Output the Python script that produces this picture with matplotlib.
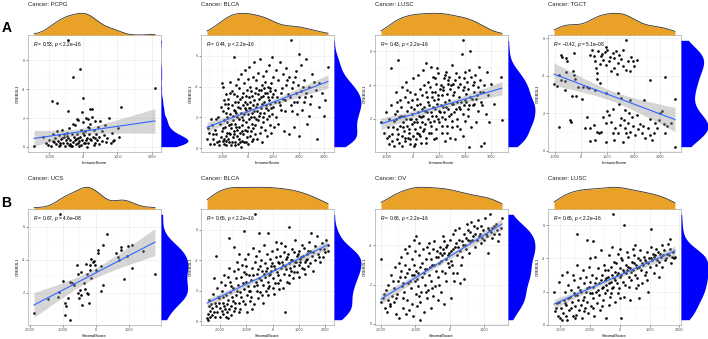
import numpy as np
import matplotlib.pyplot as plt
from matplotlib.ticker import MultipleLocator

plt.rcParams['font.family'] = ['Liberation Sans', 'DejaVu Sans']
plt.rcParams['mathtext.fontset'] = 'custom'
plt.rcParams['mathtext.rm'] = 'Liberation Sans'
plt.rcParams['mathtext.it'] = 'Liberation Sans:italic'
plt.rcParams['axes.unicode_minus'] = False

# points: (score, CREB3L1)
pcpg_pts = [(-1450,0.05),(-1200,0.7),(-1110,0.3),(-1010,0.5),(-955,0.1),(-905,0.9),(-870,0.32),(-840,0.62),
    (-805,0.2),(-930,3.2),(-780,3.07),(-772,1.1),(-745,0.42),(-705,0.8),(-676,0.15),(-648,0.52),(-618,1.2),
    (-596,0.3),(-574,0.7),(-552,0.1),(-522,0.45),(-497,1.0),(-478,0.25),(-452,0.6),(-450,2.52),(-432,1.3),
    (-405,0.2),(-384,0.5),(-350,0.9),(-332,0.1),(-303,0.35),(-320,4.85),(-282,0.7),(-253,1.5),(-228,0.2),
    (-450,7.4),(-204,0.55),(-181,0.9),(-180,1.97),(-162,0.3),(-148,1.9),(-128,0.4),(-100,5.4),(-103,0.7),
    (-78,1.2),(-58,0.15),(-41,0.5),(-22,1.7),(0,3.43),(3,0.3),(22,0.8),(38,1.1),(62,0.45),(81,2.0),(98,0.6),
    (120,1.97),(123,1.4),(148,0.25),(172,0.9),(198,1.6),(200,2.64),(223,0.5),(250,2.6),(252,2.1),(278,0.7),
    (302,1.2),(328,0.3),(352,1.8),(378,0.9),(402,0.5),(428,1.4),(463,0.7),(500,1.8),(533,0.4),(558,1.1),
    (602,0.8),(643,1.5),(702,0.6),(750,2.04),(803,0.3),(852,1.0),(870,0.41),(905,0.5),(1003,1.3),(1050,0.72),
    (1100,2.76),(2100,4.08),(-1050,0.15),(-720,0.05),(-560,0.9),(-355,0.05),(-118,0.1),(102,0.02),(305,0.12),
    (-895,0.4),(-305,1.6),(152,1.3),(452,0.2),(650,0.35),(-52,2.4),(-620,0.6),(-480,0.75),(-260,0.45),
    (-10,0.95),(180,0.55),(-700,0.3),(-420,0.15),(-150,0.65),(60,0.25),(330,0.65)]

blca_imm_pts = [(-1600,0.6),(-1520,1.0),(-1480,0.3),(-1420,1.5),(-1380,0.6),(-1310,0.3),(-1290,1.2),(-1230,0.9),
    (-1180,2.0),(-1120,0.2),(-1090,1.6),(-1060,0.7),(-1030,4.2),(-1010,1.1),(-990,2.4),(-970,0.5),(-960,4.0),
    (-940,1.8),(-925,0.3),(-910,2.9),(-890,1.4),(-875,0.8),(-860,3.5),(-840,0.2),(-830,2.0),(-815,1.0),
    (-795,2.6),(-780,0.6),(-760,3.2),(-745,1.5),(-735,0.4),(-715,2.2),(-700,0.9),(-690,4.3),(-665,1.3),
    (-650,0.2),(-635,2.8),(-615,3.7),(-600,1.8),(-585,0.7),(-555,5.9),(-545,2.5),(-535,1.1),(-520,0.4),
    (-510,3.0),(-495,1.6),(-485,0.2),(-470,4.1),(-455,2.3),(-440,0.8),(-430,3.4),(-410,1.2),(-400,2.7),
    (-390,0.3),(-380,4.5),(-360,3.9),(-345,1.9),(-335,0.6),(-310,2.6),(-300,1.0),(-290,3.2),(-280,0.1),
    (-260,4.8),(-245,2.0),(-235,0.5),(-215,1.5),(-200,3.6),(-190,2.8),(-180,0.9),(-160,2.2),(-145,4.2),
    (-135,0.4),(-110,3.0),(-100,1.2),(-90,5.1),(-80,2.5),(-60,1.7),(-45,0.7),(-35,3.8),(-15,2.9),(-5,4.5),
    (5,1.4),(15,0.3),(25,2.2),(40,3.3),(55,1.9),(60,5.3),(70,0.8),(90,2.6),(105,4.0),(115,1.1),(140,3.7),
    (150,1.6),(160,2.3),(170,0.5),(190,4.6),(205,2.8),(215,1.3),(240,3.1),(250,5.6),(260,2.0),(270,0.9),
    (290,1.5),(305,3.9),(315,2.7),(340,4.4),(355,2.4),(365,0.6),(390,3.5),(405,1.8),(415,4.9),(440,2.1),
    (455,3.2),(465,1.0),(490,5.8),(500,3.8),(510,2.6),(520,1.4),(540,4.1),(555,2.9),(565,0.4),(590,3.4),
    (605,1.7),(615,4.7),(640,2.3),(655,3.9),(665,1.2),(690,4.3),(705,2.8),(715,5.0),(740,3.6),(755,1.9),
    (765,0.8),(790,4.0),(805,2.5),(815,3.1),(840,5.4),(855,1.5),(865,3.7),(890,2.9),(905,4.2),(915,1.0),
    (940,3.3),(955,5.9),(965,2.2),(990,4.6),(1005,2.7),(1015,1.4),(1080,3.8),(1100,5.1),(1120,2.0),
    (1180,4.4),(1200,1.6),(1220,3.0),(1280,5.6),(1300,2.5),(1320,3.6),(1380,3.2),(1400,4.8),(1420,1.1),
    (1480,2.4),(1500,4.1),(1520,5.2),(1580,3.5),(1600,0.9),(1620,4.6),(1700,7.0),(1680,2.8),(1720,3.9),
    (1780,4.3),(1800,1.4),(1820,3.0),(1880,5.0),(1900,3.6),(1920,2.2),(1980,4.1),(2000,6.1),(2010,0.8),
    (2030,3.3),(2080,3.7),(2100,5.4),(2120,2.5),(2190,4.4),(2210,3.0),(2280,5.8),(2300,3.6),(2320,1.6),
    (2390,4.0),(2410,2.1),(2480,3.4),(2510,4.8),(2700,0.6),(2690,3.8),(2780,4.2),(2810,2.7),(2990,2.1),
    (3020,3.1),(3150,5.3),
    (-1550,1.3),(-1350,0.9),(-1250,1.9),(-1150,0.5),(-1050,2.7),(-980,1.3),(-950,3.1),(-920,0.6),(-870,2.3),
    (-820,1.7),(-770,2.9),(-720,1.0),(-680,3.6),(-640,1.6),(-590,2.1),(-560,0.9),(-530,3.5),(-500,2.4),
    (-460,1.4),(-420,2.0),(-370,3.0),(-330,1.4),(-270,2.3),(-220,3.3),(-170,1.8),(-120,2.6),(-70,3.4),
    (-20,1.1),(30,2.6),(80,3.0),(130,2.0),(180,3.4),(230,2.4),(280,3.6),(330,1.9),(380,2.9),(430,3.8),
    (480,2.3),(530,3.3),(580,2.0),(630,3.0),(680,3.6),(730,2.6),(780,3.3),(830,2.1),(880,3.9),(930,2.6),
    (980,3.5),(1050,3.0),(1150,3.3),(1250,2.8),(1350,3.9),(1450,3.1),(1550,4.4),(1650,3.3),(1750,2.4),
    (1850,4.6),(1950,3.0),(2150,4.0),(2250,3.3),(2450,2.9),(2600,4.3),(2900,3.6),(-1450,1.9),(-1200,0.4),
    (-860,0.5),(-610,0.4),(-320,0.4),(-70,0.4),(200,0.6),(-230,1.1)]

lusc_imm_pts = [(-1200,1.8),(-1100,1.2),(-1010,2.4),(-985,0.9),(-920,1.5),(-895,0.5),(-880,2.0),(-820,5.0),
    (-805,2.8),(-790,1.1),(-770,0.7),(-720,1.9),(-700,0.4),(-680,2.3),(-630,3.6),(-610,1.4),(-595,0.8),
    (-575,2.5),(-540,5.5),(-520,2.1),(-505,0.6),(-490,3.1),(-470,1.6),(-430,2.7),(-415,1.0),(-400,3.9),
    (-385,0.4),(-370,1.8),(-330,2.2),(-310,1.3),(-295,3.3),(-275,0.7),(-235,4.2),(-220,2.5),(-205,1.6),
    (-190,0.9),(-170,3.0),(-130,1.2),(-115,2.0),(-100,3.6),(-85,0.5),(-70,2.7),(-35,1.7),(-20,3.1),(-5,2.3),
    (10,1.0),(25,4.4),(40,0.4),(70,2.6),(85,1.4),(100,3.5),(115,2.0),(130,0.8),(170,3.2),(185,1.8),(200,4.6),
    (215,2.4),(230,1.1),(270,2.9),(285,1.5),(300,3.8),(315,0.6),(330,2.1),(370,3.4),(385,2.2),(400,4.9),
    (415,1.3),(430,2.7),(470,2.5),(485,1.7),(500,3.6),(515,0.9),(525,5.3),(570,3.0),(585,4.2),(600,2.0),
    (615,1.2),(630,2.8),(670,3.9),(685,2.4),(700,5.1),(715,1.6),(730,3.3),(770,2.7),(785,4.5),(800,1.9),
    (815,3.1),(830,0.8),(870,3.6),(880,2.2),(895,4.1),(905,1.4),(915,2.9),(930,5.0),(970,3.2),(985,4.7),
    (1000,2.5),(1015,1.8),(1030,3.8),(1070,2.8),(1085,4.0),(1100,1.2),(1115,3.4),(1130,2.1),(1170,3.7),
    (1185,4.4),(1200,2.4),(1215,0.7),(1230,3.0),(1270,4.8),(1285,2.7),(1300,3.5),(1315,1.6),(1330,4.1),
    (1370,3.1),(1385,2.2),(1400,4.5),(1415,0.9),(1430,3.8),(1470,4.0),(1485,2.9),(1500,5.2),(1515,1.5),
    (1530,3.4),(1570,3.6),(1585,2.4),(1600,4.3),(1615,0.8),(1670,4.7),(1685,3.0),(1700,2.0),(1715,3.9),
    (1770,3.3),(1785,4.1),(1800,1.4),(1815,2.6),(1875,5.84),(1900,6.66),(1910,3.7),(1925,2.3),(1940,4.4),
    (1980,3.1),(1995,4.8),(2010,1.9),(2025,3.5),(2080,4.2),(2095,2.6),(2150,0.36),(2120,3.8),(2175,6.04),
    (2190,3.3),(2210,1.5),(2230,4.5),(2280,2.8),(2300,4.0),(2320,3.6),(2380,4.6),(2400,1.8),(2420,3.2),
    (2480,3.9),(2500,2.5),(2520,5.1),(2580,4.3),(2600,3.0),(2620,0.4),(2710,0.6),(2690,3.6),(2720,4.0),
    (2780,2.3),(2820,4.8),(2880,3.4),(2910,1.8),(3000,4.1),(3100,2.9),(3400,1.96),(3380,4.5),
    (-900,1.0),(-750,1.5),(-650,2.0),(-550,1.1),(-450,2.2),(-350,1.5),(-250,2.0),(-150,1.4),(-50,2.0),
    (50,1.8),(150,1.2),(250,2.2),(350,1.8),(450,1.4),(550,2.4),(650,1.8),(750,2.2),(850,2.6),(950,2.0),
    (1050,2.4),(1150,2.7),(1250,2.0),(1350,2.6),(1450,2.3),(1550,2.9),(1650,2.6),(1750,2.7),(1850,3.0),
    (1950,2.8),(2050,3.0),(2150,2.8),(2250,3.2),(2350,2.9),(2450,3.4),(2550,3.6),(2650,2.8),(150,2.8),
    (350,2.6),(550,3.3),(750,3.6),(950,3.4),(1150,3.9),(1350,4.3),(1550,4.1),(1750,4.5),(1950,3.9),
    (2150,4.9),(2350,4.2),(-300,0.9),(-100,0.8),(100,0.5),(300,1.0),(500,0.6),(700,1.2),(900,0.9),
    (1100,1.6),(1300,1.2),(1500,1.9),(1700,1.6),(1900,1.0),(2100,2.2),(-600,3.0),(-200,3.7),(450,4.0),
    (850,4.4),(1250,4.6)]

tgct_pts = [(-1025,3.57),(-900,3.46),(-780,5.12),(-730,5.0),(-560,4.95),(-545,4.77),(-820,4.05),(-750,3.79),
    (-580,4.18),(-260,5.21),(-300,4.23),(-255,4.05),(-230,3.82),(-820,1.25),(-620,3.25),(-360,2.93),
    (-210,2.93),(25,2.75),(65,3.39),(220,3.39),(285,3.34),(545,3.25),(220,1.79),(130,1.2),(325,1.2),
    (480,1.38),(350,0.54),(545,0.57),(610,1.02),(675,0.96),(935,0.48),(830,1.82),(975,2.09),
    (350,5.12),(415,5.39),(480,5.04),(540,4.77),(550,4.41),(610,4.14),(740,5.04),(805,5.18),(900,5.25),
    (935,4.59),(1000,5.39),(1065,4.77),(1130,4.23),(1195,5.21),(1260,4.95),(1325,5.3),(1390,4.68),
    (1455,5.12),(1585,5.39),(1690,5.89),(1780,4.77),(1975,4.77),(2105,4.86),(1845,4.23),(1580,4.5),
    (615,3.84),(715,3.6),(935,3.07),(1390,3.1),(1520,2.8),(1650,2.18),(1845,2.71),(2390,2.68),(2620,3.79),
    (3175,3.91),(3550,2.77),(3560,0.21),
    (1065,1.91),(1300,1.23),(1390,0.93),(1480,1.38),(1520,1.73),(1610,1.64),(1650,1.2),(1715,0.93),
    (1780,1.46),(1785,0.75),(1870,1.02),(1950,1.79),(1975,1.29),(2040,0.84),(2105,1.91),(2170,1.14),
    (2235,1.43),(2300,0.93),(2365,1.32),(2430,0.66),(2520,1.2),(2620,0.84),(2685,0.57),(2750,0.93),
    (2815,1.46),(2880,1.2),(2945,1.64),(3010,2.0),(3075,2.09),(3140,1.43),(3200,0.93),(3270,1.29),
    (1260,0.57),(1585,0.48),(1130,1.55),(935,1.46),(740,1.02),(1195,0.93),
    (700,4.6),(850,4.85),(1100,5.0),(1230,4.4),(1500,4.9),(1700,4.3),(1900,5.0),(950,5.55),(650,5.3),
    (1350,4.1),(2000,4.5),(-100,3.4),(1200,2.2),(1450,2.5),(1800,2.0),(2600,1.7),(3400,1.5),(-420,1.65),
    (-380,1.55),(-600,3.7)]

ucs_pts = [(-1880,0.76),(-1457,1.64),(-1150,1.74),(-1131,2.06),(-1102,6.74),(-996,2.7),(-948,1.4),(-900,1.2),
    (-945,0.66),(-775,0.36),(-847,1.66),(-794,2.66),(-727,2.56),(-665,2.46),(-443,3.26),(-544,3.14),
    (-573,3.66),(-496,2.14),(-440,1.86),(-500,1.66),(-424,1.26),(-362,2.56),(-343,2.2),(-261,2.0),(-222,1.4),
    (-225,1.94),(-295,3.74),(-258,3.1),(-189,3.34),(-141,2.9),(-160,4.06),(-88,3.86),(-40,3.94),(13,3.34),
    (-21,3.7),(80,4.6),(61,4.4),(215,4.9),(349,5.56),(167,3.6),(213,2.46),(170,2.1),(618,4.4),(666,4.14),
    (695,4.0),(753,4.74),(772,4.58),(974,4.84),(955,4.2),(1099,4.86),(1109,3.5),(849,2.8),(1426,4.5),
    (1800,3.14),(-548,2.0),(-186,3.7)]

blca_str_pts = [(-2500,0.2),(-2480,0.5),(-2440,1.0),(-2460,0.1),(-2390,0.7),(-2410,1.4),(-2310,0.4),
    (-2290,1.8),(-2330,0.9),(-2210,1.2),(-2190,0.3),(-2230,2.8),(-2150,4.3),(-2110,0.6),(-2080,1.6),
    (-2120,2.2),(-2010,0.9),(-1990,0.3),(-2030,1.5),(-1970,2.6),(-1910,1.2),(-1890,0.5),(-1930,2.0),
    (-1870,3.0),(-1810,0.8),(-1790,1.7),(-1830,2.4),(-1770,0.3),(-1710,1.4),(-1690,2.9),(-1730,0.6),
    (-1670,3.5),(-1675,5.44),(-1610,1.9),(-1590,1.0),(-1630,2.6),(-1570,0.4),(-1510,2.2),(-1490,3.3),
    (-1530,1.3),(-1470,0.7),(-1460,4.88),(-1410,1.7),(-1390,2.8),(-1430,0.9),(-1370,3.9),(-1310,2.4),
    (-1290,1.2),(-1330,3.4),(-1270,4.4),(-1210,1.6),(-1190,2.9),(-1230,0.8),(-1170,3.7),(-1110,2.1),
    (-1090,3.2),(-1130,1.3),(-1090,5.9),(-1070,4.1),(-1010,2.6),(-990,1.7),(-1030,3.6),(-970,0.6),
    (-910,2.0),(-890,3.0),(-930,4.4),(-870,1.3),(-810,2.7),(-790,3.5),(-830,1.6),(-770,4.8),(-710,2.3),
    (-690,3.9),(-690,7.0),(-730,1.1),(-610,3.1),(-590,2.0),(-630,4.3),(-570,1.5),(-510,2.8),(-490,3.6),
    (-525,5.8),(-470,1.9),(-530,4.6),(-410,3.3),(-390,2.4),(-430,4.0),(-370,1.2),(-310,2.9),(-290,3.8),
    (-330,5.0),(-270,2.0),(-210,3.5),(-190,2.6),(-230,4.4),(-170,1.7),(-175,5.76),(-110,3.1),(-90,4.1),
    (-130,2.3),(-70,3.6),(-10,3.8),(10,2.8),(-30,4.6),(30,1.8),(90,3.4),(110,4.2),(70,2.5),(130,5.2),
    (190,3.9),(210,3.0),(170,4.7),(230,2.1),(290,4.3),(310,3.5),(270,2.7),(330,5.1),(390,3.7),(410,4.5),
    (430,3.1),(475,0.58),(490,4.1),(510,3.4),(470,4.9),(530,2.6),(600,6.17),(610,3.8),(590,4.4),(630,3.0),
    (690,4.0),(710,3.3),(730,4.7),(790,4.5),(810,3.6),(770,2.8),(830,5.3),(890,3.9),(910,4.3),(930,3.2),
    (990,4.6),(1010,3.7),(1030,4.1),(1090,4.2),(1110,3.5),(1130,5.0),(1190,4.8),(1210,3.9),(1230,3.1),
    (1290,4.4),(1310,4.1),(1330,3.6),(1390,5.2),(1410,3.8),(1430,4.6),(1450,5.76),(1490,4.3),(1520,3.3),
    (1590,4.9),(1610,4.0),(1700,5.55),(1720,4.4),(1790,4.7),(1810,3.9),(1890,5.1),(1910,4.2),(1990,4.5),
    (2010,5.3),(2090,5.0),(2100,4.6),
    (-2350,1.1),(-2250,0.6),(-2170,1.0),(-2050,1.2),(-1950,0.7),(-1850,1.0),(-1750,1.1),(-1650,0.8),
    (-1550,1.6),(-1450,1.2),(-1350,2.0),(-1250,1.9),(-1150,2.5),(-1050,1.1),(-950,2.3),(-850,2.0),
    (-750,3.0),(-650,2.6),(-550,3.4),(-450,2.7),(-350,3.1),(-250,3.3),(-150,3.0),(-50,3.3),(50,3.6),
    (150,3.2),(250,3.8),(350,3.9),(450,3.6),(550,4.2),(650,3.5),(750,4.0),(850,3.9),(950,4.4),(1050,3.9),
    (1150,4.3),(1250,4.0),(1350,4.6),(1550,4.5),(1750,4.2),(1950,4.7),(-1900,1.6),(-1600,2.3),(-1300,0.6),
    (-1000,3.1),(-800,0.8),(-600,2.4),(-400,1.7),(-200,2.2),(0,2.2),(200,2.5),(400,2.2),(600,2.5),
    (800,3.2),(1000,2.9),(1200,3.4),(-1700,0.2),(-2400,0.3)]

ov_pts = [(-1990,3.32),(-2000,1.1),(-1910,1.5),(-1890,0.8),(-1810,2.0),(-1790,1.2),(-1830,0.6),(-1710,2.5),
    (-1690,1.4),(-1730,0.9),(-1610,1.8),(-1590,2.9),(-1630,1.1),(-1570,0.5),(-1510,2.2),(-1490,3.1),
    (-1530,1.5),(-1470,0.3),(-1410,2.7),(-1390,1.9),(-1430,3.4),(-1370,0.8),(-1350,1.3),(-1310,2.4),
    (-1290,3.0),(-1330,1.6),(-1270,0.5),(-1250,3.6),(-1210,2.1),(-1180,3.97),(-1190,2.8),(-1230,1.2),
    (-1170,0.7),(-1110,2.5),(-1090,3.3),(-1130,1.8),(-1030,4.26),(-1070,0.4),(-990,4.48),(-1010,2.2),
    (-1030,3.0),(-970,1.5),(-950,0.9),(-980,2.7),(-910,2.6),(-890,3.5),(-930,1.9),(-870,1.1),(-880,4.1),
    (-860,0.2),(-810,2.4),(-790,3.1),(-830,1.6),(-770,3.8),(-750,0.6),(-710,2.8),(-690,3.3),(-730,2.0),
    (-670,1.3),(-650,3.9),(-610,2.5),(-590,3.6),(-630,1.7),(-570,2.9),(-550,0.8),(-510,3.0),(-490,3.8),
    (-530,2.2),(-470,1.4),(-450,4.2),(-410,2.7),(-390,3.4),(-430,1.9),(-370,3.7),(-350,1.2),(-310,3.1),
    (-290,3.9),(-330,2.4),(-270,3.6),(-250,1.6),(-210,3.5),(-190,3.8),(-230,2.7),(-170,4.2),(-150,1.0),
    (-110,3.3),(-90,3.9),(-130,2.6),(-70,4.0),(-50,3.1),(-10,3.6),(10,4.3),(-30,2.9),(30,3.2),(50,1.3),
    (90,3.8),(110,4.6),(70,3.0),(130,2.2),(190,4.1),(210,3.5),(170,4.8),(230,2.6),(290,4.3),(310,3.7),
    (270,4.9),(330,3.0),(390,4.0),(410,4.6),(370,3.4),(430,2.3),(490,4.4),(510,5.1),(470,3.8),(530,4.8),
    (590,4.7),(610,4.2),(570,3.6),(630,5.2),(690,4.5),(710,5.0),(730,3.9),(790,4.3),(810,4.9),(830,5.3),
    (890,4.6),(910,4.1),(930,5.0),(990,4.8),(1010,4.3),(1030,5.4),(1090,4.5),(1110,4.9),(1130,3.6),
    (1190,5.59),(1210,4.7),(1230,4.4),(1290,4.6),(1310,5.0),(1390,4.8),(1410,4.2),(1530,5.38),(1490,4.9),
    (-1950,1.3),(-1850,1.7),(-1750,1.0),(-1650,2.2),(-1550,1.3),(-1450,2.4),(-1350,2.1),(-1250,2.6),
    (-1150,2.2),(-1050,2.5),(-950,2.3),(-850,2.9),(-750,2.6),(-650,2.8),(-550,3.3),(-450,3.0),(-350,3.4),
    (-250,3.2),(-150,3.6),(-50,3.5),(50,3.7),(150,3.9),(250,3.9),(350,4.2),(450,4.0),(550,4.3),(650,4.3),
    (750,4.6),(850,4.5),(950,4.4),(1050,4.6),(1150,4.8),(1250,4.9),(1350,5.1),(1450,4.6),(-1100,1.0),
    (-900,1.4),(-700,1.6),(-500,1.8),(-300,2.0),(-100,2.2),(100,2.6),(-1300,3.8),(-1000,3.7),(-600,4.1),
    (-200,4.5),(300,2.1)]

lusc_str_pts = [(-2210,1.98),(-2190,0.8),(-2110,1.3),(-2090,0.5),(-2010,0.4),(-1990,1.0),(-2030,2.6),
    (-1910,0.7),(-1890,1.5),(-1930,3.0),(-1810,1.2),(-1790,0.3),(-1830,2.0),(-1770,3.2),(-1710,0.9),
    (-1690,1.7),(-1730,2.4),(-1610,1.4),(-1590,0.5),(-1630,2.1),(-1570,3.0),(-1510,1.8),(-1490,1.1),
    (-1530,2.7),(-1470,0.6),(-1455,5.5),(-1410,1.5),(-1390,2.3),(-1430,3.6),(-1370,0.9),(-1310,2.0),
    (-1290,1.2),(-1330,2.8),(-1270,0.4),(-1210,1.7),(-1190,2.5),(-1230,3.3),(-1170,1.0),(-1110,2.2),
    (-1090,1.4),(-1100,5.09),(-1130,2.9),(-1070,0.7),(-1010,1.9),(-990,2.6),(-1030,3.5),(-970,1.1),
    (-910,2.3),(-910,5.05),(-890,1.6),(-930,3.0),(-870,0.5),(-810,2.0),(-790,2.8),(-830,4.1),(-770,1.3),
    (-710,2.5),(-690,1.8),(-730,3.4),(-670,0.9),(-610,2.2),(-590,3.0),(-630,4.5),(-570,1.5),(-510,2.7),
    (-490,1.9),(-530,3.6),(-470,0.4),(-450,2.4),(-410,2.9),(-390,3.3),(-430,2.1),(-370,4.2),(-350,1.2),
    (-310,2.6),(-290,3.5),(-330,1.7),(-270,2.2),(-250,4.7),(-245,6.67),(-210,2.8),(-190,3.8),(-230,2.3),
    (-170,1.4),(-150,3.2),(-110,3.0),(-90,2.5),(-130,3.7),(-70,4.3),(-50,1.9),(-10,2.9),(10,3.4),(-30,2.2),
    (30,4.0),(50,0.4),(90,3.3),(110,2.6),(70,3.9),(130,1.7),(145,6.04),(190,3.1),(210,3.6),(170,2.4),
    (230,4.4),(290,3.5),(310,2.9),(270,4.1),(330,1.5),(390,3.2),(410,3.8),(370,2.7),(430,4.6),(490,3.7),
    (510,3.0),(470,4.2),(530,2.2),(590,3.4),(610,4.0),(570,2.8),(630,1.6),(690,3.9),(710,3.3),(670,4.5),
    (730,2.5),(790,3.6),(810,4.1),(830,3.0),(890,3.8),(910,4.4),(870,3.2),(930,2.0),(990,4.0),(1010,3.5),
    (1030,4.7),(1055,5.8),(1090,3.9),(1110,4.3),(1130,3.1),(1190,4.2),(1210,3.6),(1230,4.6),(1290,4.4),
    (1310,3.8),(1330,2.9),(1390,4.1),(1410,4.8),(1430,3.5),(1490,4.5),(1510,3.9),(1590,4.3),(1610,4.9),
    (1670,5.15),(1690,4.6),(1710,3.7),(1790,4.4),(1810,4.0),(1850,4.1),
    (-2150,1.0),(-2050,1.4),(-1950,0.3),(-1850,1.3),(-1750,1.6),(-1650,1.0),(-1550,1.9),(-1450,1.8),
    (-1350,2.1),(-1250,1.5),(-1150,2.0),(-1050,2.3),(-950,1.9),(-850,2.5),(-750,2.1),(-650,2.7),(-550,2.3),
    (-450,2.8),(-350,2.5),(-250,3.0),(-150,2.7),(-50,3.1),(50,3.0),(150,3.2),(250,3.3),(350,3.4),(450,3.3),
    (550,3.6),(650,3.5),(750,3.7),(850,3.9),(950,3.7),(1050,4.0),(1150,4.1),(1250,3.9),(1350,4.3),
    (1450,4.2),(1550,4.0),(1650,4.2),(1750,4.1),(-1800,0.5),(-1500,0.4),(-1200,0.8),(-900,1.0),(-600,1.1),
    (-300,1.9),(0,1.6),(300,2.3),(600,2.4),(900,2.7),(-1000,4.0),(-500,3.3),(0,4.6),(500,4.8)]

cancers = ["PCPG", "BLCA", "LUSC", "TGCT", "UCS", "BLCA", "OV", "LUSC"]
point_sets = [pcpg_pts, blca_imm_pts, lusc_imm_pts, tgct_pts, ucs_pts, blca_str_pts, ov_pts, lusc_str_pts]
score_names = ["ImmuneScore"] * 4 + ["StromalScore"] * 4
r_values = ["0.53", "0.44", "0.43", "−0.42", "0.67", "0.66", "0.66", "0.66"]
p_values = ["< 2.2e−16", "< 2.2e−16", "< 2.2e−16", "= 5.1e−08", "= 4.6e−08", "< 2.2e−16", "< 2.2e−16", "< 2.2e−16"]

W, H = 708, 339
ORANGE = "#E9A227"


def rect(l, t, w, h):
    return [l / W, 1 - (t + h) / H, w / W, h / H]


def kde(v):
    # gaussian density like R's density() with bw.nrd0, over the data range
    v = np.asarray(v, float)
    n = len(v)
    iqr = np.subtract(*np.percentile(v, [75, 25]))
    bw = 0.9 * min(v.std(ddof=1), iqr / 1.34) * n ** -0.2
    g = np.linspace(v.min(), v.max(), 256)
    d = np.exp(-0.5 * ((g[:, None] - v[None, :]) / bw) ** 2).sum(1) / (n * bw * np.sqrt(2 * np.pi))
    return g, d


fig = plt.figure(figsize=(W / 100, H / 100), dpi=100)

lefts = [28, 201, 375, 548]
box_w = 133
box_tops = [35, 209]
box_hs = [117, 116]
title_ys = [5, 178]

for i in range(8):
    row, col = divmod(i, 4)
    l, t, h = lefts[col], box_tops[row], box_hs[row]
    x, y = np.array(point_sets[i], float).T

    ax = fig.add_axes(rect(l, t, box_w, h))
    top = fig.add_axes(rect(l, t - 23, box_w, 23))
    side = fig.add_axes(rect(l + box_w, t, 28, h))

    # regression line with 95% band
    n = len(x)
    b1, b0 = np.polyfit(x, y, 1)
    xs = np.linspace(x.min(), x.max(), 100)
    fit = b0 + b1 * xs
    s = np.sqrt(((y - (b0 + b1 * x)) ** 2).sum() / (n - 2))
    se = s * np.sqrt(1 / n + (xs - x.mean()) ** 2 / ((x - x.mean()) ** 2).sum())
    ax.scatter(x, y, s=3.6, color='black', lw=0, zorder=2)
    ax.fill_between(xs, fit - 1.97 * se, fit + 1.97 * se, color='#999999', alpha=0.4, lw=0, zorder=3)
    ax.plot(xs, fit, color='#3366FF', lw=0.8, zorder=4)

    rx, ry = np.ptp(x), np.ptp(y)
    ax.set_xlim(x.min() - 0.05 * rx, x.max() + 0.05 * rx)
    ax.set_ylim(y.min() - 0.05 * ry, y.max() + 0.05 * ry)
    ax.xaxis.set_major_locator(MultipleLocator(1000))
    ax.xaxis.set_minor_locator(MultipleLocator(500))
    ax.yaxis.set_major_locator(MultipleLocator(2))
    ax.yaxis.set_minor_locator(MultipleLocator(1))
    ax.grid(which='major', color='#EBEBEB', lw=0.45)
    ax.grid(which='minor', color='#F3F3F3', lw=0.3)
    ax.set_axisbelow(True)
    ax.tick_params(which='major', labelsize=2.8, length=1.5, width=0.4, pad=1,
                   color='#333333', labelcolor='#4D4D4D')
    ax.tick_params(which='minor', length=0)
    for sp in ax.spines.values():
        sp.set_color('#AAAAAA')
        sp.set_linewidth(0.5)
    ax.set_xlabel(score_names[i], fontsize=3.0, labelpad=1)
    ax.set_ylabel("CREB3L1", fontsize=3.0, labelpad=1.5)
    ax.text(0.04, 0.92, r"$\it{R}$ = " + r_values[i] + r", $\it{p}$ " + p_values[i],
            transform=ax.transAxes, fontsize=3.5, va='center', ha='left', zorder=5)

    # marginal densities
    gx, dx = kde(x)
    top.fill_between(gx, 0, dx, color=ORANGE, lw=0)
    top.plot(gx, dx, color='#333333', lw=0.6)
    top.set_xlim(ax.get_xlim())
    top.set_ylim(0, dx.max() * 1.06)
    top.axis('off')

    gy, dy = kde(y)
    side.fill_betweenx(gy, 0, dy, color='#0000FF', lw=0)
    side.set_ylim(ax.get_ylim())
    side.set_xlim(0, dy.max() * 1.04)
    side.axis('off')

    fig.text(l / W, 1 - title_ys[row] / H, "Cancer: " + cancers[i], fontsize=4.3,
             va='center', ha='left', color='#222222')

fig.text(7 / W, 1 - 28 / H, "A", fontsize=10, fontweight='bold', ha='center', va='center')
fig.text(6 / W, 1 - 203 / H, "B", fontsize=10, fontweight='bold', ha='center', va='center')

fig.savefig('out.png', dpi=100)
